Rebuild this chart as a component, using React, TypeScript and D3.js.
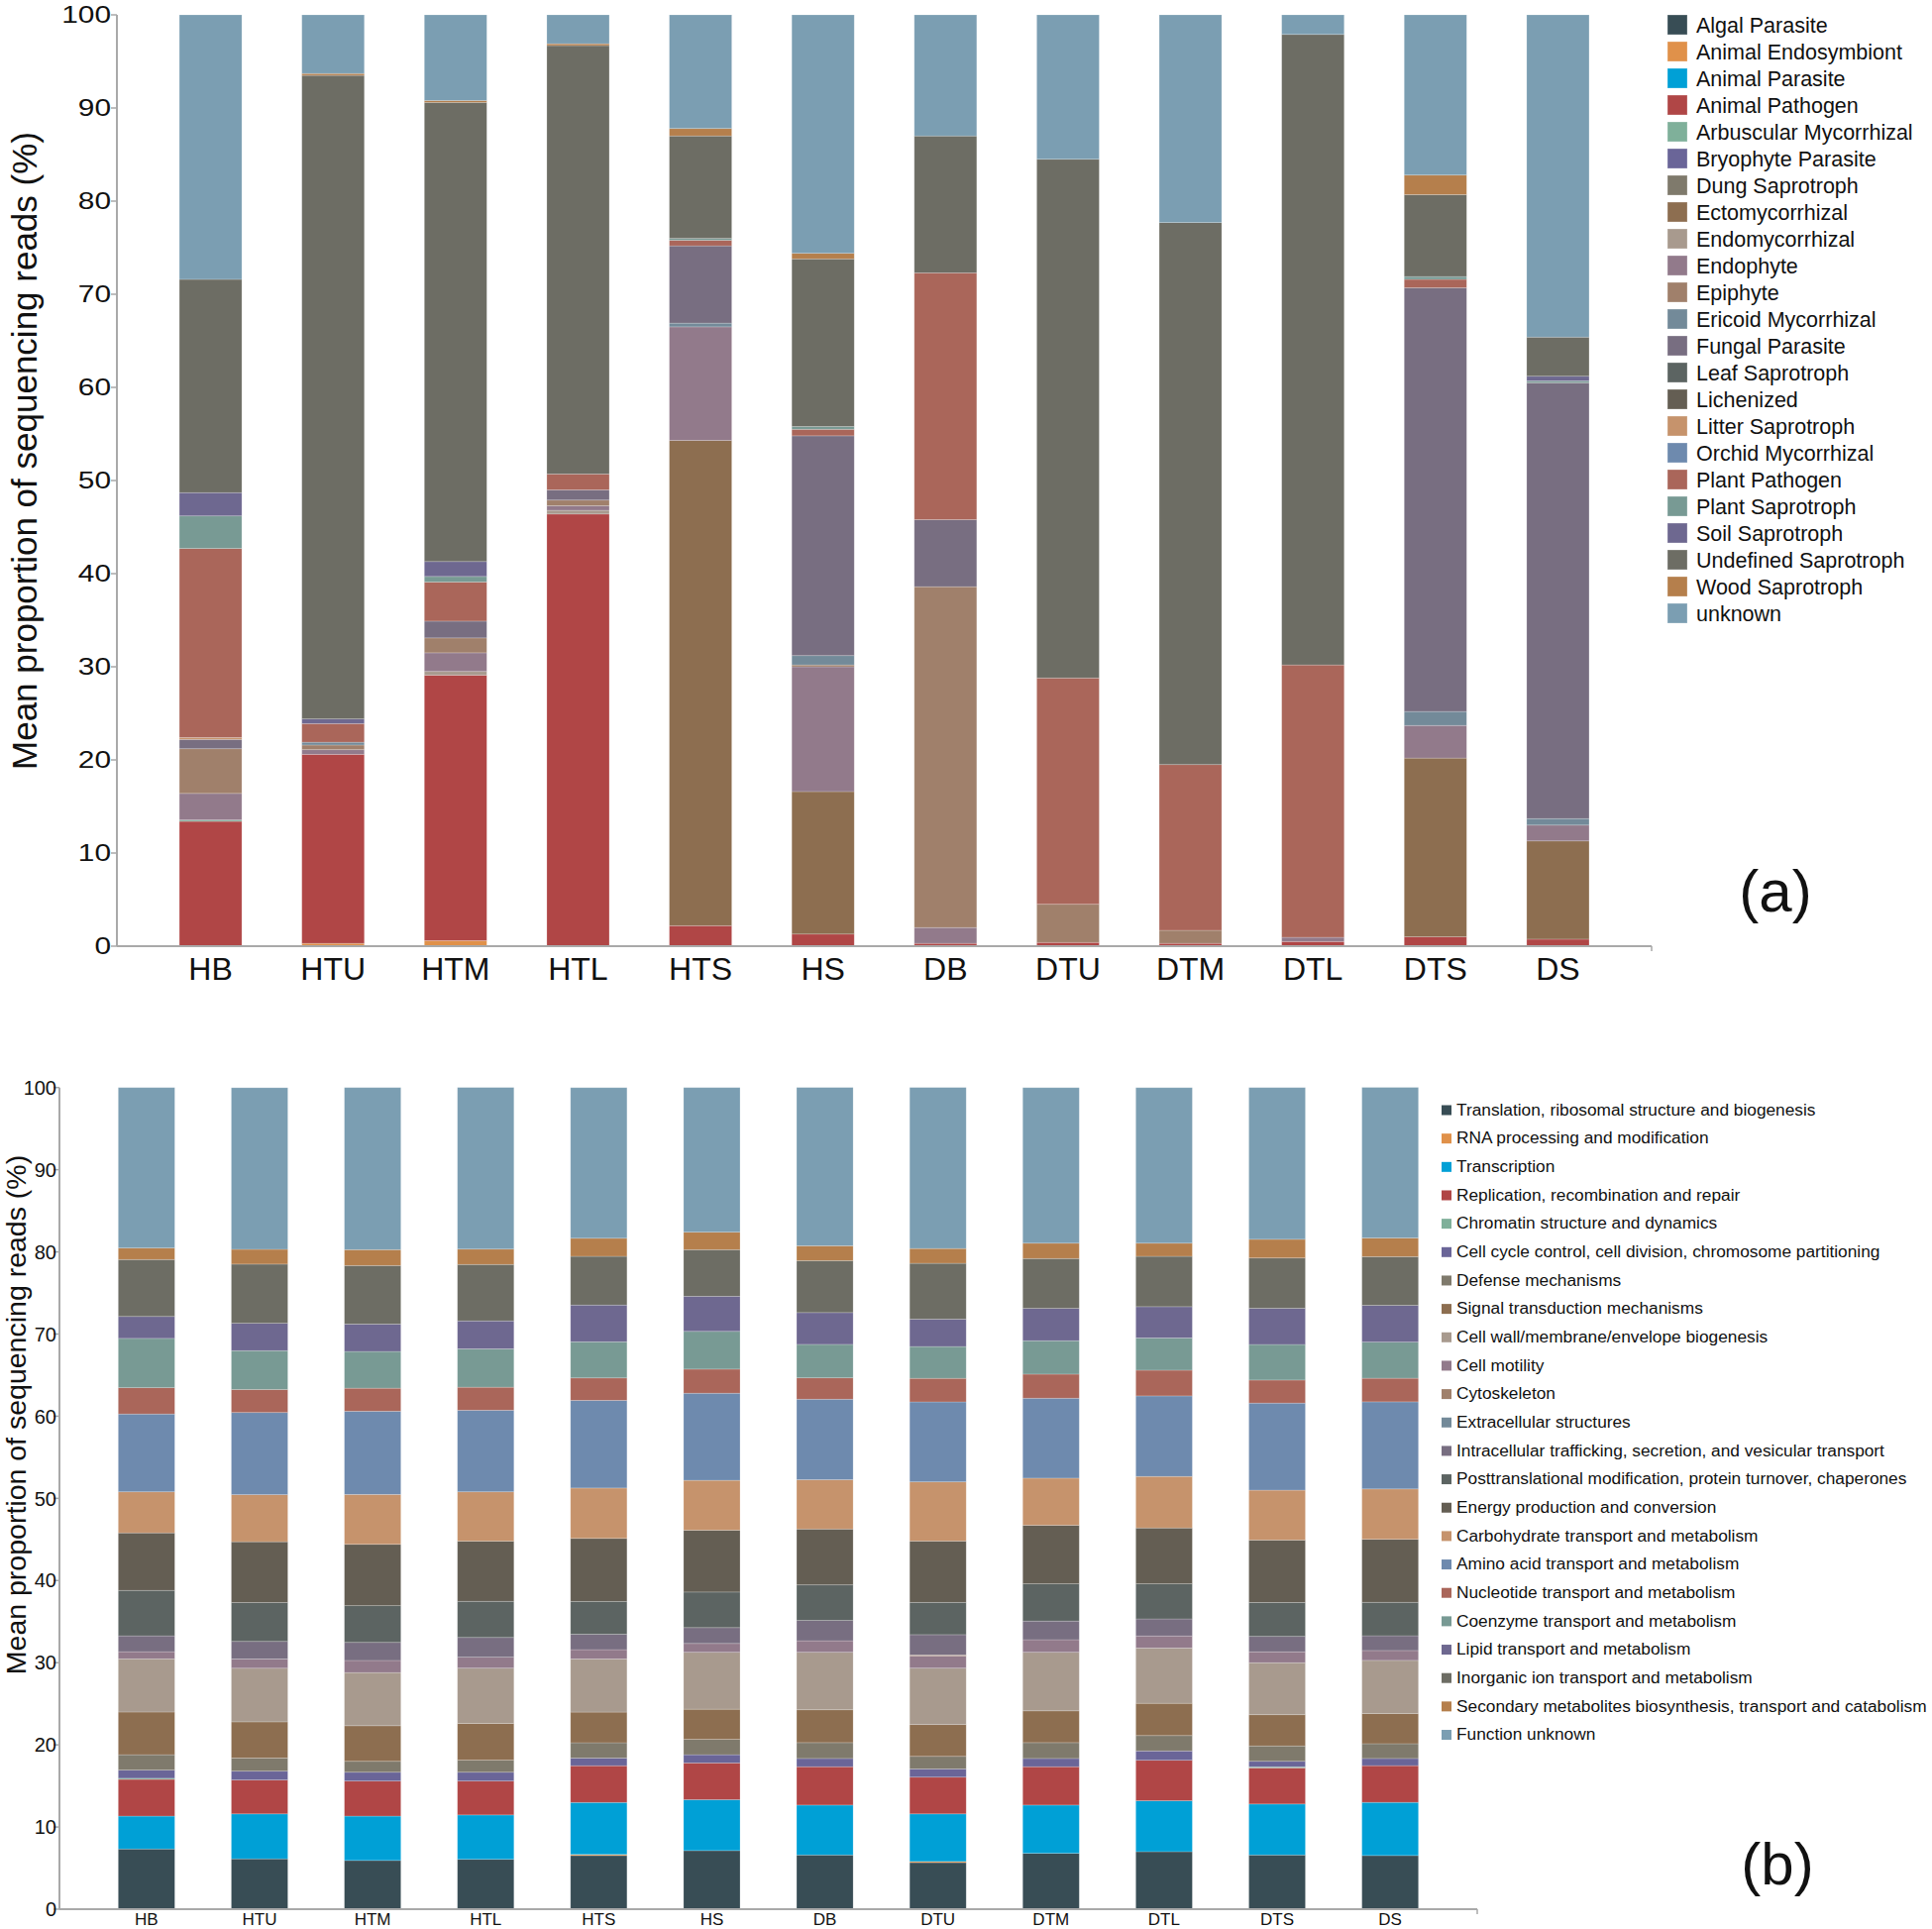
import React from "react";
import * as d3 from "d3";

// ---------- categories ----------
const sites = ["HB", "HTU", "HTM", "HTL", "HTS", "HS", "DB", "DTU", "DTM", "DTL", "DTS", "DS"];
const yTicks = [0, 10, 20, 30, 40, 50, 60, 70, 80, 90, 100];

// ---------- panel (a): fungal guilds ----------
const guildNames = [
  "Algal Parasite", "Animal Endosymbiont", "Animal Parasite", "Animal Pathogen",
  "Arbuscular Mycorrhizal", "Bryophyte Parasite", "Dung Saprotroph", "Ectomycorrhizal",
  "Endomycorrhizal", "Endophyte", "Epiphyte", "Ericoid Mycorrhizal", "Fungal Parasite",
  "Leaf Saprotroph", "Lichenized", "Litter Saprotroph", "Orchid Mycorrhizal",
  "Plant Pathogen", "Plant Saprotroph", "Soil Saprotroph", "Undefined Saprotroph",
  "Wood Saprotroph", "unknown",
];
const algalParasite = [0, 0, 0, 0, 0, 0, 0, 0, 0, 0, 0, 0];
const animalEndosymbiont = [0, 0.3, 0.6, 0, 0, 0, 0, 0, 0, 0, 0, 0];
const animalParasite = [0, 0, 0, 0, 0, 0, 0, 0, 0, 0, 0, 0];
const animalPathogen = [13.4, 20.3, 28.5, 46.4, 2.2, 1.3, 0.3, 0.4, 0.3, 0.5, 1.0, 0.75];
const arbuscularMycorrhizal = [0.15, 0, 0, 0, 0, 0, 0, 0, 0, 0, 0, 0];
const bryophyteParasite = [0, 0, 0, 0, 0, 0, 0, 0, 0, 0, 0, 0];
const dungSaprotroph = [0, 0, 0, 0, 0, 0, 0, 0, 0, 0, 0, 0];
const ectomycorrhizal = [0, 0, 0, 0, 52.1, 15.3, 0, 0, 0, 0, 19.2, 10.55];
const endomycorrhizal = [0, 0, 0.4, 0.4, 0, 0, 0, 0, 0, 0, 0, 0];
const endophyte = [2.85, 0.5, 2.0, 0.5, 12.2, 13.4, 1.7, 0, 0, 0.45, 3.5, 1.7];
const epiphyte = [4.8, 0.5, 1.6, 0.6, 0, 0.2, 36.6, 4.1, 1.4, 0, 0, 0];
const ericoidMycorrhizal = [0, 0.3, 0, 0, 0.4, 1.0, 0, 0, 0, 0, 1.5, 0.7];
const fungalParasite = [1.0, 0, 1.8, 1.1, 8.3, 23.6, 7.2, 0, 0, 0, 45.5, 46.8];
const leafSaprotroph = [0, 0, 0, 0, 0, 0, 0, 0, 0, 0, 0, 0];
const lichenized = [0, 0, 0, 0, 0, 0, 0, 0, 0, 0, 0, 0];
const litterSaprotroph = [0.2, 0, 0, 0, 0, 0, 0, 0, 0, 0, 0, 0];
const orchidMycorrhizal = [0, 0, 0, 0, 0, 0, 0, 0, 0, 0, 0, 0];
const plantPathogen = [20.3, 2.0, 4.2, 1.7, 0.6, 0.7, 26.5, 24.3, 17.8, 29.25, 0.9, 0];
const plantSaprotroph = [3.5, 0, 0.6, 0, 0.2, 0.3, 0, 0, 0, 0, 0.3, 0.2];
const soilSaprotroph = [2.5, 0.5, 1.6, 0, 0, 0, 0, 0, 0, 0, 0, 0.5];
const undefinedSaprotroph = [22.9, 69.1, 49.3, 46.0, 11.0, 18.0, 14.7, 55.7, 58.2, 67.7, 8.8, 4.2];
const woodSaprotroph = [0, 0.2, 0.2, 0.2, 0.8, 0.6, 0, 0, 0, 0, 2.1, 0];
const unknownGuild = [28.4, 6.3, 9.2, 3.1, 12.2, 25.6, 13.0, 15.5, 22.3, 2.1, 17.2, 34.6];

const guildSeries = [
  algalParasite, animalEndosymbiont, animalParasite, animalPathogen, arbuscularMycorrhizal,
  bryophyteParasite, dungSaprotroph, ectomycorrhizal, endomycorrhizal, endophyte, epiphyte,
  ericoidMycorrhizal, fungalParasite, leafSaprotroph, lichenized, litterSaprotroph,
  orchidMycorrhizal, plantPathogen, plantSaprotroph, soilSaprotroph, undefinedSaprotroph,
  woodSaprotroph, unknownGuild,
];

// ---------- panel (b): COG functional categories ----------
const cogNames = [
  "Translation, ribosomal structure and biogenesis",
  "RNA processing and modification",
  "Transcription",
  "Replication, recombination and repair",
  "Chromatin structure and dynamics",
  "Cell cycle control, cell division, chromosome partitioning",
  "Defense mechanisms",
  "Signal transduction mechanisms",
  "Cell wall/membrane/envelope biogenesis",
  "Cell motility",
  "Cytoskeleton",
  "Extracellular structures",
  "Intracellular trafficking, secretion, and vesicular transport",
  "Posttranslational modification, protein turnover, chaperones",
  "Energy production and conversion",
  "Carbohydrate transport and metabolism",
  "Amino acid transport and metabolism",
  "Nucleotide transport and metabolism",
  "Coenzyme transport and metabolism",
  "Lipid transport and metabolism",
  "Inorganic ion transport and metabolism",
  "Secondary metabolites biosynthesis, transport and catabolism",
  "Function unknown",
];
const cogTranslation = [7.33, 6.13, 5.93, 6.07, 6.53, 7.13, 6.6, 5.67, 6.8, 7.0, 6.6, 6.53];
const cogRna = [0, 0, 0, 0, 0.13, 0, 0, 0.13, 0, 0, 0, 0];
const cogTranscription = [4.0, 5.47, 5.4, 5.4, 6.33, 6.2, 6.07, 5.8, 5.87, 6.2, 6.2, 6.47];
const cogReplication = [4.47, 4.13, 4.27, 4.13, 4.47, 4.47, 4.67, 4.47, 4.67, 4.93, 4.4, 4.47];
const cogChromatin = [0.13, 0, 0, 0, 0, 0, 0, 0, 0, 0, 0.13, 0];
const cogCellCycle = [1.0, 1.07, 1.07, 1.07, 0.93, 1.0, 1.0, 1.0, 1.0, 1.13, 0.67, 0.87];
const cogDefense = [1.87, 1.6, 1.33, 1.47, 1.87, 1.87, 1.93, 1.53, 1.93, 1.87, 1.87, 1.8];
const cogSignal = [5.2, 4.4, 4.33, 4.47, 3.73, 3.67, 4.0, 3.87, 3.87, 3.93, 3.8, 3.67];
const cogCellWall = [6.47, 6.53, 6.47, 6.73, 6.47, 6.93, 7.0, 6.87, 7.13, 6.73, 6.33, 6.47];
const cogMotility = [0.87, 1.13, 1.47, 1.33, 1.13, 1.07, 1.4, 1.47, 1.53, 1.47, 1.33, 1.2];
const cogCytoskeleton = [0, 0, 0, 0, 0, 0, 0, 0.13, 0, 0, 0, 0];
const cogExtracellular = [0, 0, 0, 0, 0, 0, 0, 0, 0, 0, 0, 0];
const cogIntracellular = [1.93, 2.13, 2.2, 2.4, 1.87, 1.93, 2.47, 2.47, 2.27, 2.07, 1.87, 1.8];
const cogPosttranslational = [5.53, 4.73, 4.47, 4.4, 4.0, 4.33, 4.33, 3.93, 4.53, 4.27, 4.13, 4.07];
const cogEnergy = [7.0, 7.4, 7.47, 7.33, 7.67, 7.53, 6.8, 7.47, 7.13, 6.8, 7.6, 7.67];
const cogCarbohydrate = [5.0, 5.73, 6.07, 6.0, 6.13, 6.07, 6.0, 7.2, 5.73, 6.27, 6.07, 6.13];
const cogAminoAcid = [9.47, 10.0, 10.13, 9.93, 10.67, 10.6, 9.8, 9.73, 9.73, 9.8, 10.6, 10.6];
const cogNucleotide = [3.2, 2.8, 2.8, 2.8, 2.73, 2.93, 2.6, 2.87, 2.93, 3.13, 2.8, 2.87];
const cogCoenzyme = [6.0, 4.73, 4.47, 4.67, 4.4, 4.6, 4.07, 3.87, 4.07, 3.93, 4.33, 4.4];
const cogLipid = [2.67, 3.33, 3.33, 3.4, 4.47, 4.27, 3.87, 3.33, 3.93, 3.8, 4.4, 4.47];
const cogInorganic = [6.93, 7.2, 7.13, 6.87, 5.93, 5.67, 6.33, 6.8, 6.07, 6.13, 6.13, 5.93];
const cogSecondary = [1.4, 1.8, 1.93, 1.87, 2.2, 2.13, 1.8, 1.8, 1.87, 1.6, 2.27, 2.27];
const cogUnknown = [19.53, 19.67, 19.73, 19.67, 18.33, 17.6, 19.27, 19.6, 18.93, 18.93, 18.47, 18.33];

const cogSeries = [
  cogTranslation, cogRna, cogTranscription, cogReplication, cogChromatin, cogCellCycle,
  cogDefense, cogSignal, cogCellWall, cogMotility, cogCytoskeleton, cogExtracellular,
  cogIntracellular, cogPosttranslational, cogEnergy, cogCarbohydrate, cogAminoAcid,
  cogNucleotide, cogCoenzyme, cogLipid, cogInorganic, cogSecondary, cogUnknown,
];

// ---------- shared palette (23 colours, legend order) ----------
const palette = [
  "#384d55", "#e0914a", "#00a0d6", "#b04646", "#7fb09a", "#6a6598", "#7f7a6c",
  "#8d6e50", "#a89a8e", "#927a8b", "#a0806b", "#738a99", "#786e81", "#5c6462",
  "#645e53", "#c6936c", "#6e8aae", "#aa665a", "#789a94", "#6e6890", "#6d6d64",
  "#b57f4c", "#7b9eb2",
];

const FONT = "'Helvetica Neue', Helvetica, Arial, 'Liberation Sans', sans-serif";

function buildRows(names: string[], series: number[][]) {
  return sites.map((s, i) => {
    const row: any = { site: s };
    names.forEach((n, k) => (row[n] = series[k][i]));
    return row;
  });
}

type PanelProps = {
  names: string[];
  series: number[][];
  x0: number; x1: number; yTop: number; yBottom: number;
  padInner: number; padOuter: number;
  tickFont: number; tickScaleX: number; tickRight: number; catFont: number; catBaseline: number;
  titleX: number; titleY: number; titleFont: number;
};

function Panel(p: PanelProps) {
  const rows = buildRows(p.names, p.series);
  const stack = d3.stack<any>().keys(p.names)(rows);
  const x = d3.scaleBand<string>().domain(sites).range([p.x0, p.x1]).paddingInner(p.padInner).paddingOuter(p.padOuter);
  const y = d3.scaleLinear().domain([0, 100]).range([p.yBottom, p.yTop]);
  const color = d3.scaleOrdinal<string, string>().domain(p.names).range(palette);
  const axisColor = "#a9a9a9";
  return (
    <g>
      {stack.map((layer) => (
        <g key={layer.key} fill={color(layer.key)}>
          {layer.map((d, i) => {
            const h = y(d[0]) - y(d[1]);
            if (h <= 0) return null;
            return (
              <rect
                key={i}
                x={x(sites[i])}
                y={y(d[1])}
                width={x.bandwidth()}
                height={h}
                stroke="#ffffff"
                strokeOpacity={0.25}
                strokeWidth={0.8}
              />
            );
          })}
        </g>
      ))}
      {/* y axis */}
      <line x1={p.x0} x2={p.x0} y1={p.yTop} y2={p.yBottom} stroke={axisColor} strokeWidth={2} />
      {yTicks.map((t) => (
        <g key={t}>
          <line x1={p.x0 - 6} x2={p.x0} y1={y(t)} y2={y(t)} stroke={axisColor} strokeWidth={1.5} />
          <text
            transform={`translate(${p.tickRight},${y(t)}) scale(${p.tickScaleX},1)`}
            dy="0.36em"
            textAnchor="end"
            fontSize={p.tickFont}
            fontFamily={FONT}
            fill="#111"
          >
            {t}
          </text>
        </g>
      ))}
      {/* x axis */}
      <line x1={p.x0} x2={p.x1} y1={p.yBottom} y2={p.yBottom} stroke={axisColor} strokeWidth={2} />
      <line x1={p.x1} x2={p.x1} y1={p.yBottom} y2={p.yBottom + 5} stroke={axisColor} strokeWidth={1.5} />
      {sites.map((s) => (
        <text
          key={s}
          x={(x(s) as number) + x.bandwidth() / 2}
          y={p.catBaseline}
          textAnchor="middle"
          fontSize={p.catFont}
          fontFamily={FONT}
          fill="#111"
        >
          {s}
        </text>
      ))}
      <text
        transform={`translate(${p.titleX},${p.titleY}) rotate(-90)`}
        textAnchor="middle"
        fontSize={p.titleFont}
        fontFamily={FONT}
        fill="#111"
      >
        Mean proportion of sequencing reads (%)
      </text>
    </g>
  );
}

export default function App() {
  return (
    <svg
      width={1950}
      height={1947}
      style={{ position: "absolute", left: 0, top: 0, display: "block", background: "#fff" }}
    >
      <Panel
        names={guildNames}
        series={guildSeries}
        x0={118}
        x1={1667}
        yTop={15}
        yBottom={955}
        padInner={0.49}
        padOuter={0.51}
        tickFont={23.5}
        tickScaleX={1.27}
        tickRight={112}
        catFont={32}
        catBaseline={989}
        titleX={37}
        titleY={455}
        titleFont={35}
      />
      {/* legend (a) */}
      {guildNames.map((n, i) => (
        <g key={n} transform={`translate(1683,${25 + i * 27})`}>
          <rect x={0} y={-10} width={20} height={20} fill={palette[i]} stroke="#fff" strokeOpacity={0.3} />
          <text x={29} y={0} dy="0.36em" fontSize={21.5} fontFamily={FONT} fill="#111">
            {n}
          </text>
        </g>
      ))}
      <text x={1792} y={920} textAnchor="middle" fontSize={60} fontWeight={300} fontFamily={FONT} fill="#111">
        (a)
      </text>

      <Panel
        names={cogNames}
        series={cogSeries}
        x0={60}
        x1={1491}
        yTop={1097.7}
        yBottom={1927}
        padInner={0.5}
        padOuter={0.52}
        tickFont={20}
        tickScaleX={1}
        tickRight={57}
        catFont={17}
        catBaseline={1943}
        titleX={26}
        titleY={1428}
        titleFont={28.5}
      />
      {/* legend (b) */}
      {cogNames.map((n, i) => (
        <g key={n} transform={`translate(1455,${1119.5 + i * 28.66})`}>
          <rect x={0} y={-4} width={10} height={10} fill={palette[i]} />
          <text x={15} y={0} dy="0.36em" fontSize={17.3} fontFamily={FONT} fill="#111">
            {n}
          </text>
        </g>
      ))}
      <text x={1794} y={1902} textAnchor="middle" fontSize={60} fontWeight={300} fontFamily={FONT} fill="#111">
        (b)
      </text>
    </svg>
  );
}
